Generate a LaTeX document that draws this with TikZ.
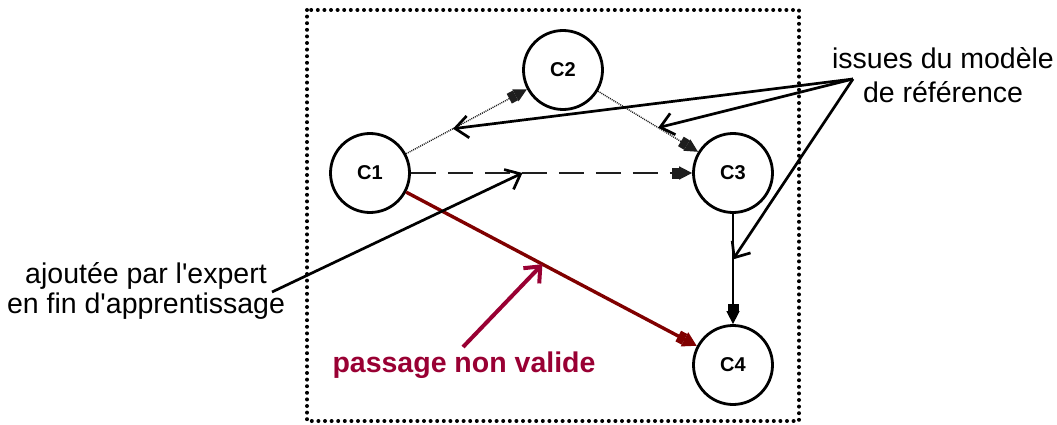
\documentclass[tikz,border=0pt]{standalone}
\usepackage{fontspec}
\setmainfont{Liberation Sans}
\newfontfamily\lbfont{Liberation Sans}
\usetikzlibrary{arrows.meta}
\definecolor{edgered}{RGB}{128,0,0}
\definecolor{annred}{RGB}{153,0,51}
\definecolor{dgray}{RGB}{30,30,30}
\begin{document}
\begin{tikzpicture}[x=1pt,y=-1pt,
  cnode/.style={circle,draw=black,line width=2.8pt,minimum size=79pt,inner sep=0pt,
    font=\lbfont\fontsize{20}{22}\selectfont\bfseries},
  headtip/.style={-{Rectangle[length=7pt,width=11pt,sep=0pt]Triangle[length=13pt,width=13pt]}},
  rel/.style={headtip,line width=1pt},
  ann/.style={line width=2.7pt,-{Straight Barb[length=13pt,width=22pt]}},
  lbl/.style={font=\lbfont\fontsize{28.5}{32}\selectfont,inner sep=0pt,align=center}]
\useasboundingbox (0,0) rectangle (1057,425);
\draw[line width=4pt,line cap=round,dash pattern=on 0pt off 6.6pt] (307,10) rectangle (799,421);

\node[cnode] (C1) at (370,173) {C1};
\node[cnode] (C2) at (563,70) {C2};
\node[cnode] (C3) at (733,173) {C3};
\node[cnode] (C4) at (733,365) {C4};

\draw[rel,densely dotted,dgray,line width=1.4pt] (C1) -- (C2);
\draw[rel,densely dotted,dgray,line width=1.4pt] (C2) -- (C3);
\draw[rel,dgray,line width=1.7pt,dash pattern=on 25pt off 12pt] (C1) -- (C3);
\draw[rel,black,line width=1.5pt] (C3) -- (C4);
\draw[edgered,line width=3.4pt,-{Rectangle[length=7pt,width=12pt,sep=0pt]Triangle[length=14pt,width=15pt]}] (C1) -- (C4);

\path (C1.center) -- (C2.center) coordinate[pos=0.43] (a12);
\path (C2.center) -- (C3.center) coordinate[pos=0.56] (a23);
\path (C3.center) -- (C4.center) coordinate[pos=0.45] (a34);
\path (C1.center) -- (C3.center) coordinate[pos=0.42] (a13);
\path (C1.center) -- (C4.center) coordinate[pos=0.475] (a14);

\node[lbl] (iss) at (943,75) {issues du modèle\\[2pt]de référence};
\node[lbl] (aj) at (146,291) {ajoutée par l'expert\\[-2pt]en fin d'apprentissage};
\node[lbl,anchor=base,text=annred,font=\lbfont\fontsize{28.5}{32}\selectfont\bfseries] (pv) at (464,372) {passage non valide};

\coordinate (iP) at (853,79);
\coordinate (ajP) at (272,292);
\coordinate (pvP) at (463,347);

\draw[ann] (iP) -- (a12);
\draw[ann] (iP) -- (a23);
\draw[ann] (iP) -- (a34);
\draw[ann] (ajP) -- (a13);
\draw[ann,annred,line width=4pt] (pvP) -- (a14);
\end{tikzpicture}
\end{document}
